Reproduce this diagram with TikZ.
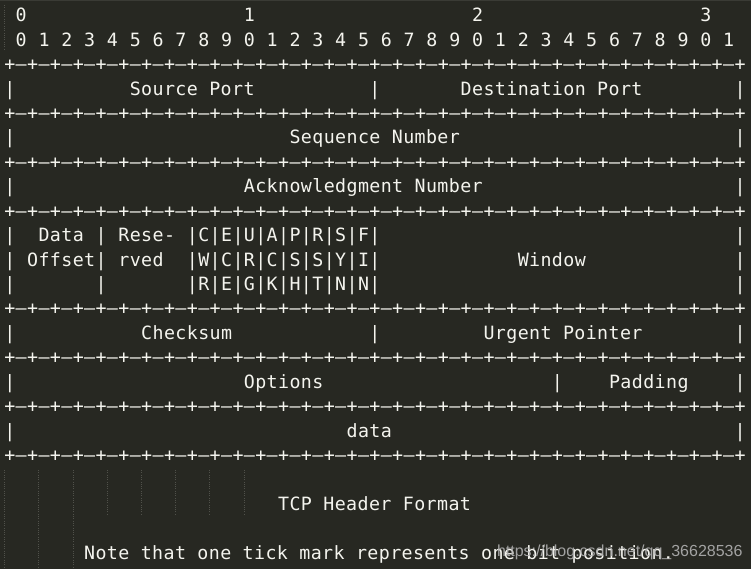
\documentclass[tikz,border=0pt]{standalone}
\usepackage{fontspec}
\newfontfamily\monofont[LetterSpace=2.15]{DejaVu Sans Mono}
\newfontfamily\wmfont{Liberation Sans}
\definecolor{bg}{HTML}{272822}
\definecolor{fg}{HTML}{F4F4EE}
\definecolor{guidec}{HTML}{50514A}
\definecolor{topc}{HTML}{3A3B35}
\definecolor{wmc}{HTML}{B0B0B0}
\tikzset{
  txt/.style={anchor=base west, inner sep=0pt, outer sep=0pt, text=fg,
    font=\monofont\fontsize{18.3pt}{18.3pt}\selectfont},
  guide/.style={draw=guidec, line width=0.9pt, dash pattern=on 1pt off 1.3pt},
  wmark/.style={anchor=base west, inner sep=0pt, outer sep=0pt, text=wmc,
    opacity=0.9, font=\wmfont\fontsize{16pt}{16pt}\selectfont},
}
\begin{document}
\begin{tikzpicture}[x=11.41pt, y=-24.44pt]
\path[fill=bg] (0pt,0pt) rectangle (751pt,-569pt);
\useasboundingbox (0pt,0pt) rectangle (751pt,-569pt);
\fill[topc] (0pt,0pt) rectangle (751pt,-1.2pt);
% indent guides
\draw[guide] (4.5pt,-5pt) -- (4.5pt,-50pt);
\foreach \k in {0,1,2} \draw[guide] ({4.5pt+34.23pt*\k},-470pt) -- ({4.5pt+34.23pt*\k},-569pt);
\foreach \k in {3,...,7} \draw[guide] ({4.5pt+34.23pt*\k},-470pt) -- ({4.5pt+34.23pt*\k},-515pt);
\begin{scope}[shift={(4.3pt,-21.7pt)}]
% bit numbers
\node[txt] (t0) at (1,0) {0};
\node[txt] (t1) at (21,0) {1};
\node[txt] (t2) at (41,0) {2};
\node[txt] (t3) at (61,0) {3};
\foreach \i in {0,...,31}{
  \pgfmathtruncatemacro{\d}{mod(\i,10)}
  \pgfmathtruncatemacro{\c}{1+2*\i}
  \node[txt] (b\i) at (\c,1) {\d};
}
% separator lines
\foreach \r in {2,4,6,8,12,14,16,18}{
  \foreach \c in {0,2,...,64} \node[txt] (p\r-\c) at (\c,\r) {+};
  \foreach \c in {1,3,...,63} \node[txt] (m\r-\c) at (\c,\r) {–};
}
% vertical bars
\foreach \r/\c in {3/0,3/32,3/64,5/0,5/64,7/0,7/64,9/0,9/8,9/64,10/0,10/8,10/64,11/0,11/8,11/64,13/0,13/32,13/64,15/0,15/48,15/64,17/0,17/64}
  \node[txt] (v\r-\c) at (\c,\r) {|};
% field labels
\node[txt] (sport) at (11,3) {Source Port};
\node[txt] (dport) at (40,3) {Destination Port};
\node[txt] (seq) at (25,5) {Sequence Number};
\node[txt] (ack) at (21,7) {Acknowledgment Number};
\node[txt] (doff1) at (3,9) {Data};
\node[txt] (doff2) at (2,10) {Offset};
\node[txt] (res1) at (10,9) {Rese-};
\node[txt] (res2) at (10,10) {rved};
\node[txt] (fl1) at (16,9) {|C|E|U|A|P|R|S|F|};
\node[txt] (fl2) at (16,10) {|W|C|R|C|S|S|Y|I|};
\node[txt] (fl3) at (16,11) {|R|E|G|K|H|T|N|N|};
\node[txt] (win) at (45,10) {Window};
\node[txt] (cks) at (12,13) {Checksum};
\node[txt] (urg) at (42,13) {Urgent Pointer};
\node[txt] (opt) at (21,15) {Options};
\node[txt] (pad) at (53,15) {Padding};
\node[txt] (dat) at (30,17) {data};
\node[txt] (title) at (24,20) {TCP Header Format};
\node[txt] (note) at (7,22) {Note that one tick mark represents one bit position.};
\end{scope}
\node[wmark] (wm) at (497pt,-556pt) {https://blog.csdn.net/qq\_36628536};
\end{tikzpicture}
\end{document}
